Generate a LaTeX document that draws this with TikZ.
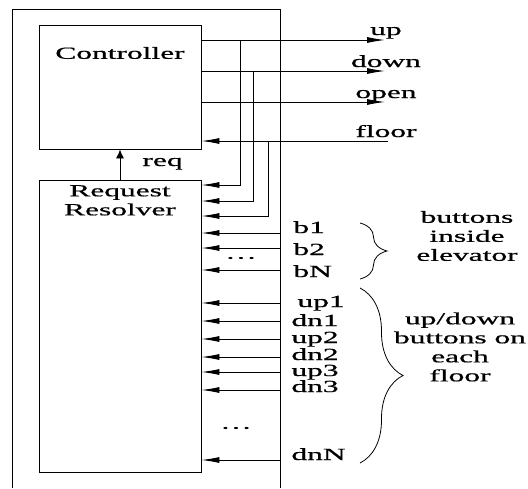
\documentclass[tikz,border=0pt]{standalone}
\usepackage{fontspec}
\setmainfont{Liberation Serif}[FakeBold=0.6]
\usetikzlibrary{arrows.meta,positioning,decorations.pathreplacing}
\newcommand\wide[1]{\scalebox{1.85}[1]{#1}}
\newcommand\widelines[1]{\wide{\begin{tabular}{@{}c@{}}#1\end{tabular}}}

\begin{document}
\begin{tikzpicture}[
    x=1pt, y=-1pt,
    line width=0.9pt,
    box/.style={draw, minimum width=162pt, inner sep=0pt},
    sig/.style={font=\fontsize{17}{19}\selectfont, inner sep=0pt},
    brc/.style={decorate, line width=0.8pt,
                decoration={brace, amplitude=#1, aspect=0.5}},
    >={Latex[length=18pt, width=6pt]}]
  \useasboundingbox (0,0) rectangle (528,488);
  % elevator frame, open at the bottom
  \draw (12,488) -- (12,9) -- (280,9) coordinate (rim) -- (280,488);
  \node[box, minimum height=124pt] (ctrl) at (120,87) {};
  \node[sig, below=22pt of ctrl.north] (ctrltxt) {\wide{Controller}};
  \node[box, minimum height=292pt] (res) at (120,326) {};
  \node[sig, below=3pt of res.north] (restxt) {\widelines{Request\\Resolver}};
  \draw[-{Latex[length=9pt, width=8pt]}] (res) -- (ctrl);
  \node[sig, anchor=base west] (req) at (142,166) {\wide{req}};
  % outputs of the controller
  \coordinate (upend) at (385,40);
  \coordinate (downend) at (385,71);
  \coordinate (openend) at (385,102);
  \coordinate (floorin) at (388,141);
  \draw[->] (ctrl.east |- upend) -- (upend);
  \draw[->] (ctrl.east |- downend) -- (downend);
  \draw[->] (ctrl.east |- openend) -- (openend);
  \draw[->] (floorin) -- (ctrl.east |- floorin);
  \node[sig, anchor=base] (up) at (386,35) {\wide{up}};
  \node[sig, anchor=base] (down) at (386,67) {\wide{down}};
  \node[sig, anchor=base] (open) at (386,98) {\wide{open}};
  \node[sig, anchor=base] (floor) at (386,137) {\wide{floor}};
  % fed back to the resolver
  \draw[->] (upend -| 240,0) |- (res.east |- 0,185);
  \draw[->] (downend -| 253,0) |- (res.east |- 0,201);
  \draw[->] (floorin -| 268,0) |- (res.east |- 0,216);
  % button inputs
  \foreach \y in {233,248,270,303,321,339,357,372,390,460}
    \draw[->] (rim |- 0,\y) -- (res.east |- 0,\y);
  \foreach \t/\x/\y in {b1/293/233, b2/293/255, bN/293/277, up1/297/307,
                        dn1/291/326, up2/291/343, dn2/291/360, up3/291/376,
                        dn3/291/392, dnN/291/460}
    \node[sig, anchor=base west] (\t) at (\x,\y) {\wide{\t}};
  \node[sig] (bdots) at (241,258) {\wide{\dots}};
  \node[sig] (fdots) at (236,428) {\wide{\dots}};
  \draw[brc=27pt] (360,223) -- (360,279);
  \draw[brc=43pt] (360,288) -- (360,463);
  \node[sig] (inside) at (467,238) {\widelines{buttons\\inside\\elevator}};
  \node[sig] (floors) at (460,349) {\widelines{up/down\\buttons on\\each\\floor}};
\end{tikzpicture}
\end{document}
